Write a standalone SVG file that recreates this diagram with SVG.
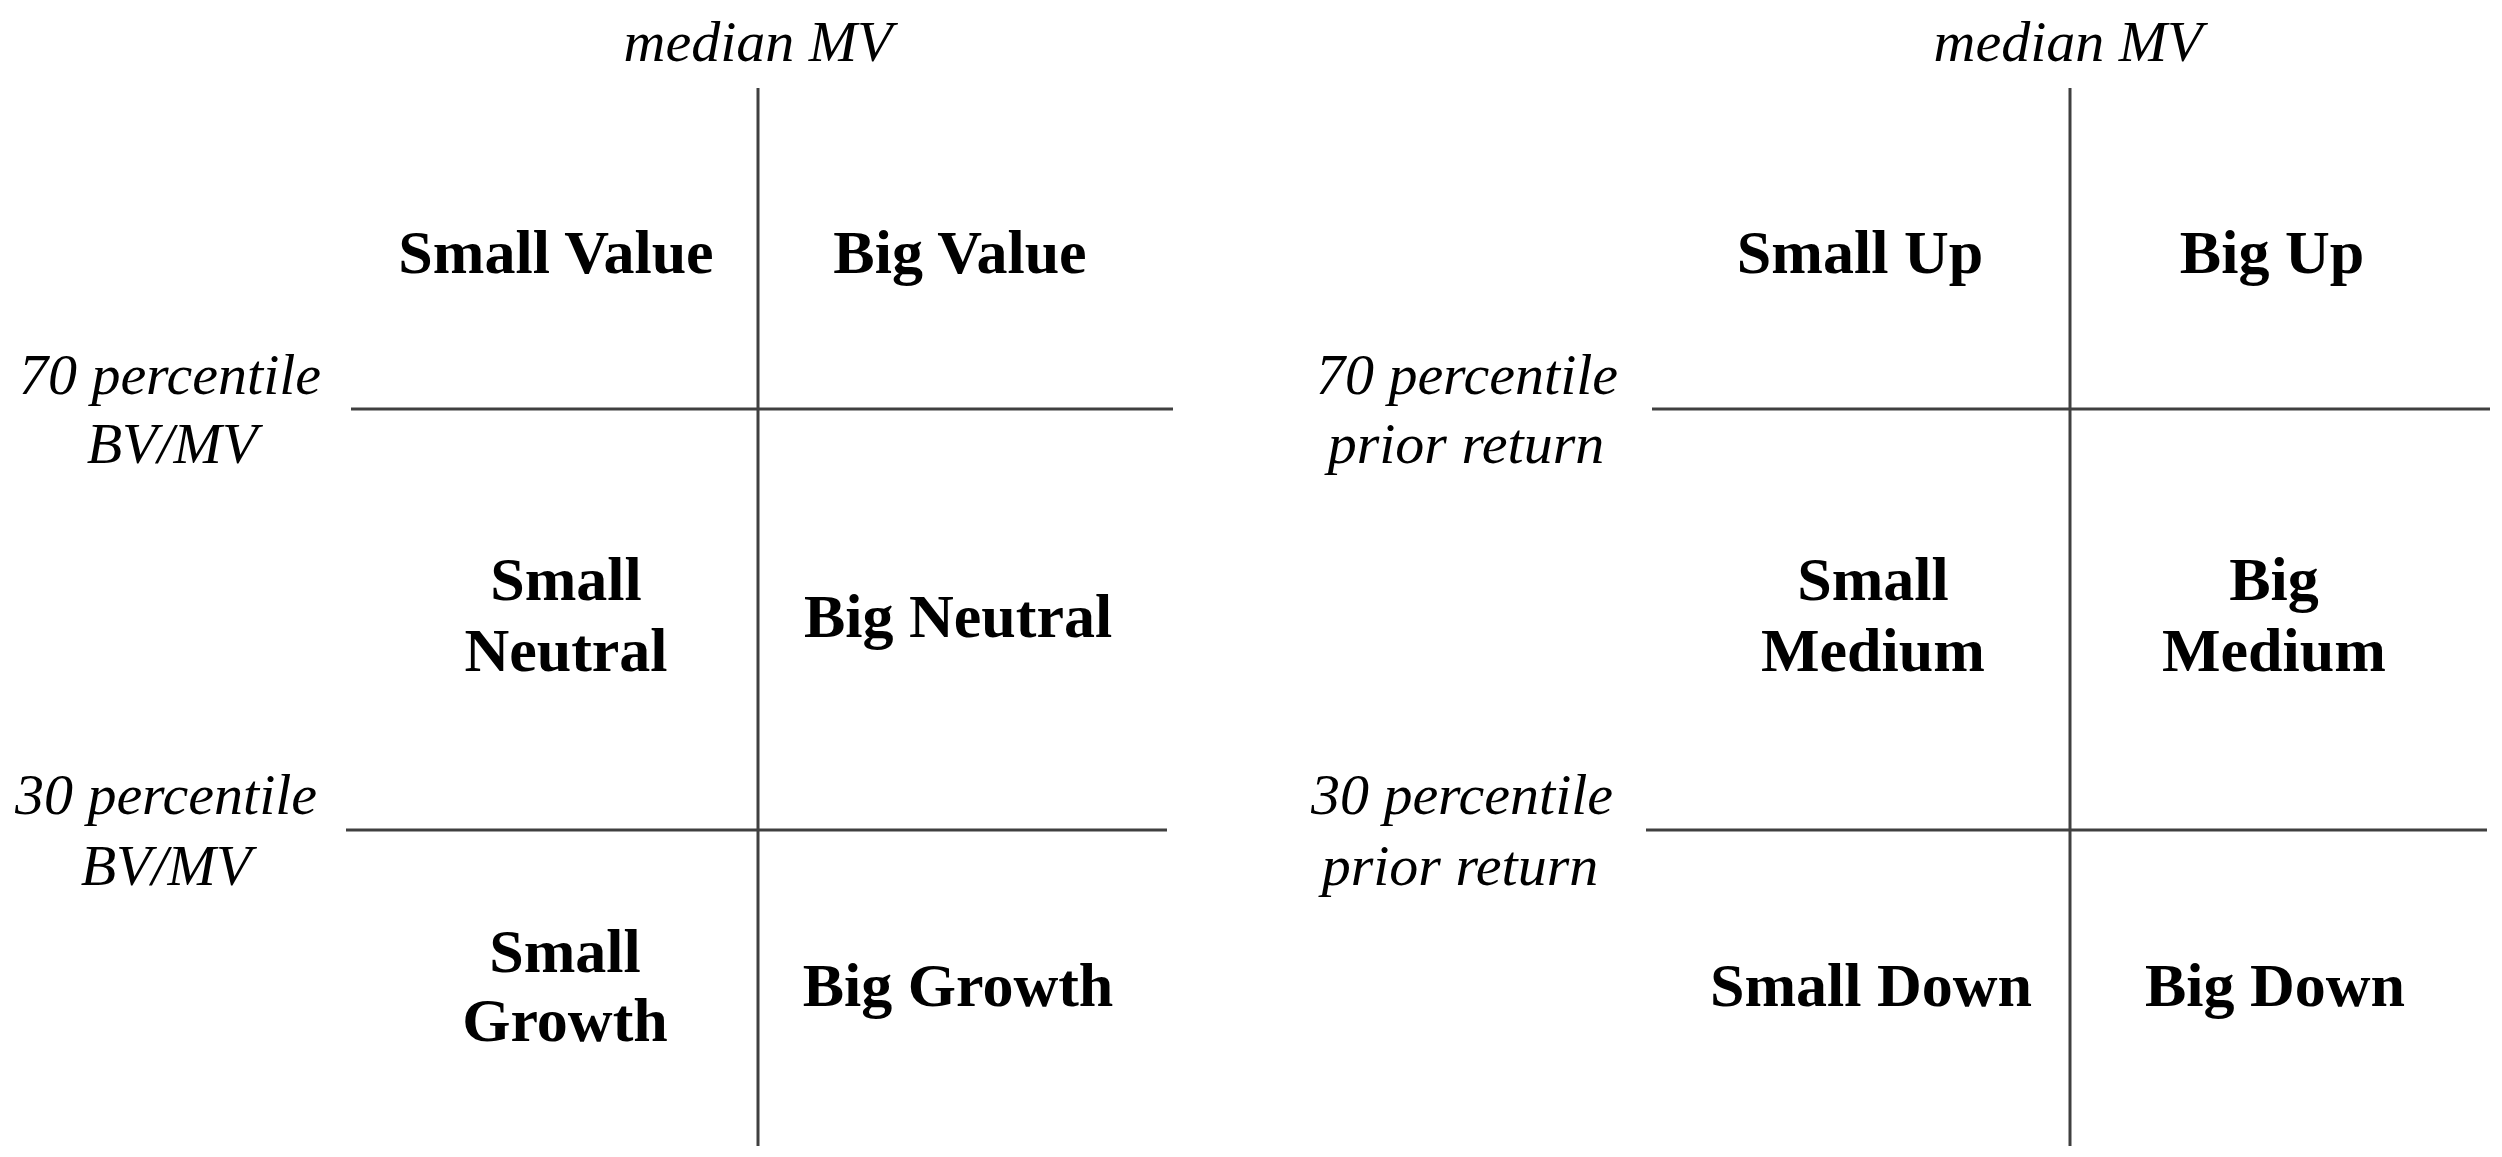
<svg xmlns="http://www.w3.org/2000/svg" width="2502" height="1157" viewBox="0 0 2502 1157">
<style>
.cell{font-family:"Liberation Serif","Times New Roman",serif;font-weight:bold;font-size:62px;fill:#000;text-anchor:middle}
.axis{font-family:"Liberation Serif","Times New Roman",serif;font-style:italic;font-size:58px;fill:#000;text-anchor:middle}
.ln{stroke:#404040;stroke-width:3;fill:none}
</style>
<rect width="2502" height="1157" fill="#fff"/>
<g id="connectors">
<line class="ln" x1="758" y1="88" x2="758" y2="1146"/>
<line class="ln" x1="351" y1="409" x2="1173" y2="409"/>
<line class="ln" x1="346" y1="830" x2="1167" y2="830"/>
<line class="ln" x1="2070" y1="88" x2="2070" y2="1146"/>
<line class="ln" x1="1652" y1="409" x2="2490" y2="409"/>
<line class="ln" x1="1646" y1="830" x2="2487" y2="830"/>
</g>
<g id="left-median"><text class="axis" x="758" y="61">median MV</text></g>
<g id="left-70"><text class="axis" x="170" y="394">70 percentile</text><text class="axis" x="172" y="463">BV/MV</text></g>
<g id="left-30"><text class="axis" x="166" y="814">30 percentile</text><text class="axis" x="166" y="885">BV/MV</text></g>
<g id="small-value"><text class="cell" x="556" y="273">Small Value</text></g>
<g id="big-value"><text class="cell" x="960" y="273">Big Value</text></g>
<g id="small-neutral"><text class="cell" x="566" y="600">Small</text><text class="cell" x="566" y="671">Neutral</text></g>
<g id="big-neutral"><text class="cell" x="958" y="637">Big Neutral</text></g>
<g id="small-growth"><text class="cell" x="565" y="972">Small</text><text class="cell" x="565" y="1041">Growth</text></g>
<g id="big-growth"><text class="cell" x="958" y="1006">Big Growth</text></g>
<g id="right-median"><text class="axis" x="2068" y="61">median MV</text></g>
<g id="right-70"><text class="axis" x="1467" y="394">70 percentile</text><text class="axis" x="1466" y="463">prior return</text></g>
<g id="right-30"><text class="axis" x="1462" y="814">30 percentile</text><text class="axis" x="1460" y="885">prior return</text></g>
<g id="small-up"><text class="cell" x="1860" y="273">Small Up</text></g>
<g id="big-up"><text class="cell" x="2272" y="273">Big Up</text></g>
<g id="small-medium"><text class="cell" x="1873" y="600">Small</text><text class="cell" x="1873" y="671">Medium</text></g>
<g id="big-medium"><text class="cell" x="2274" y="600">Big</text><text class="cell" x="2274" y="671">Medium</text></g>
<g id="small-down"><text class="cell" x="1871" y="1006">Small Down</text></g>
<g id="big-down"><text class="cell" x="2275" y="1006">Big Down</text></g>
</svg>
